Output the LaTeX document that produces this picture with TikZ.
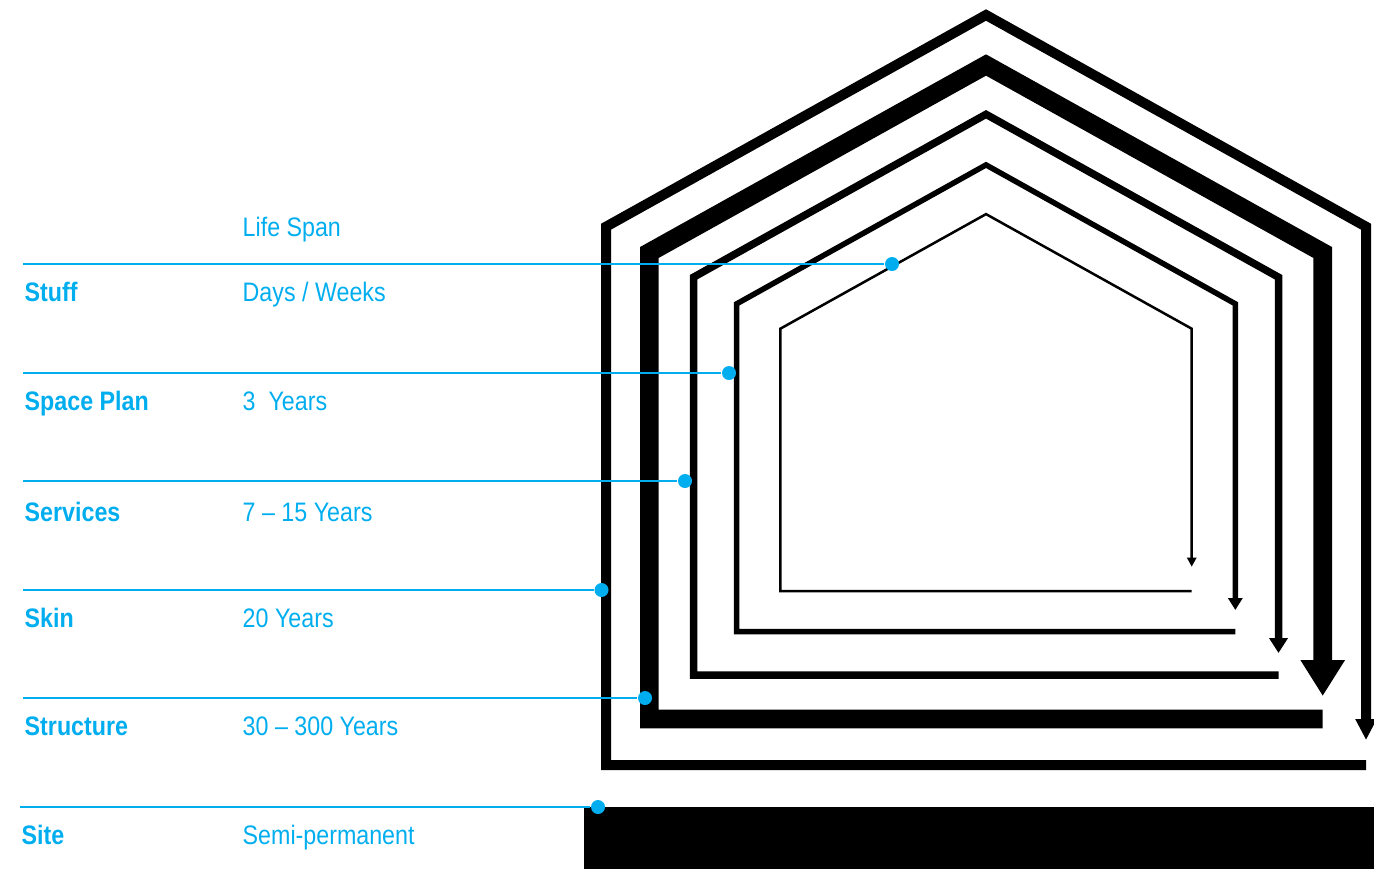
\documentclass[tikz,border=0pt]{standalone}
\usepackage{fontspec}
\setmainfont{Liberation Sans}[FakeStretch=0.87]
\usepackage{tikz}
\usetikzlibrary{arrows.meta}
\definecolor{spanblue}{HTML}{00AEEF}

\begin{document}
\begin{tikzpicture}[
    x=0.01cm, y=-0.01cm,
    font=\fontsize{7.6}{9}\selectfont,
    layer/.style={draw=black, line join=miter, line cap=butt},
    leader/.style={draw=spanblue, line width=0.23mm},
    pin/.style={circle, fill=spanblue, inner sep=0pt, minimum size=1.4mm},
    layername/.style={anchor=base west, inner sep=0pt, text=spanblue, font=\fontsize{7.6}{9}\selectfont\bfseries},
    lifespan/.style={anchor=base west, inner sep=0pt, text=spanblue}
]
\useasboundingbox (0,0) rectangle (1374,869);

% Site (ground slab)
\fill[black] (584,807) rectangle (1374,869);

% Skin (outermost house)
\draw[layer, line width=1mm, -{Triangle[width=2mm, length=2.1mm]}]
    (1366,765) -- (606,765) -- (606,226.7) -- (986,15) -- (1366,226.7) -- (1366,740);

% Structure
\draw[layer, line width=1.86mm, -{Triangle[width=4.2mm, length=3.6mm]}]
    (1322.7,719) -- (649.3,719) -- (649.3,252.5) -- (986,65) -- (1322.7,252.5) -- (1322.7,696);

% Services
\draw[layer, line width=0.75mm, -{Triangle[width=1.8mm, length=1.5mm]}]
    (1278.5,675) -- (693.5,675) -- (693.5,277.2) -- (986,114.3) -- (1278.5,277.2) -- (1278.5,653);

% Space Plan
\draw[layer, line width=0.55mm, -{Triangle[width=1.4mm, length=1.2mm]}]
    (1235.3,631.5) -- (736.7,631.5) -- (736.7,303.8) -- (986,164.9) -- (1235.3,303.8) -- (1235.3,610);

% Stuff (innermost house)
\draw[layer, line width=0.25mm, -{Triangle[width=0.9mm, length=0.9mm]}]
    (1191.7,591) -- (780.3,591) -- (780.3,328.7) -- (986,214.1) -- (1191.7,328.7) -- (1191.7,566.7);

% Pins on each layer
\node[pin] (stuffpin)     at (892,264) {};
\node[pin] (spacepin)     at (729,373) {};
\node[pin] (servicespin)  at (685,481) {};
\node[pin] (skinpin)      at (601.5,590) {};
\node[pin] (structurepin) at (645,698) {};
\node[pin] (sitepin)      at (598,807) {};

% Leader ends at the left margin
\coordinate (stuffend)     at (23,264);
\coordinate (spaceend)     at (23,373);
\coordinate (servicesend)  at (23,481);
\coordinate (skinend)      at (23,590);
\coordinate (structureend) at (23,698);
\coordinate (siteend)      at (20,807);

\draw[leader] (stuffend) -- (stuffpin);
\draw[leader] (spaceend) -- (spacepin);
\draw[leader] (servicesend) -- (servicespin);
\draw[leader] (skinend) -- (skinpin);
\draw[leader] (structureend) -- (structurepin);
\draw[leader] (siteend) -- (sitepin);

% Column heading
\node[lifespan] (head) at (242,236) {Life Span};

% Layer names
\node[layername] (stuff)     at (24,301) {Stuff};
\node[layername] (space)     at (24,410) {Space Plan};
\node[layername] (services)  at (24,521) {Services};
\node[layername] (skin)      at (24,627) {Skin};
\node[layername] (structure) at (24,735) {Structure};
\node[layername] (site)      at (21,844) {Site};

% Life spans
\node[lifespan] (stuffspan)     at (242,301) {Days / Weeks};
\node[lifespan] (spacespan)     at (242,410) {3~ Years};
\node[lifespan] (servicesspan)  at (242,521) {7 -- 15 Years};
\node[lifespan] (skinspan)      at (242,627) {20 Years};
\node[lifespan] (structurespan) at (242,735) {30 -- 300 Years};
\node[lifespan] (sitespan)      at (242,844) {Semi-permanent};

\end{tikzpicture}
\end{document}
